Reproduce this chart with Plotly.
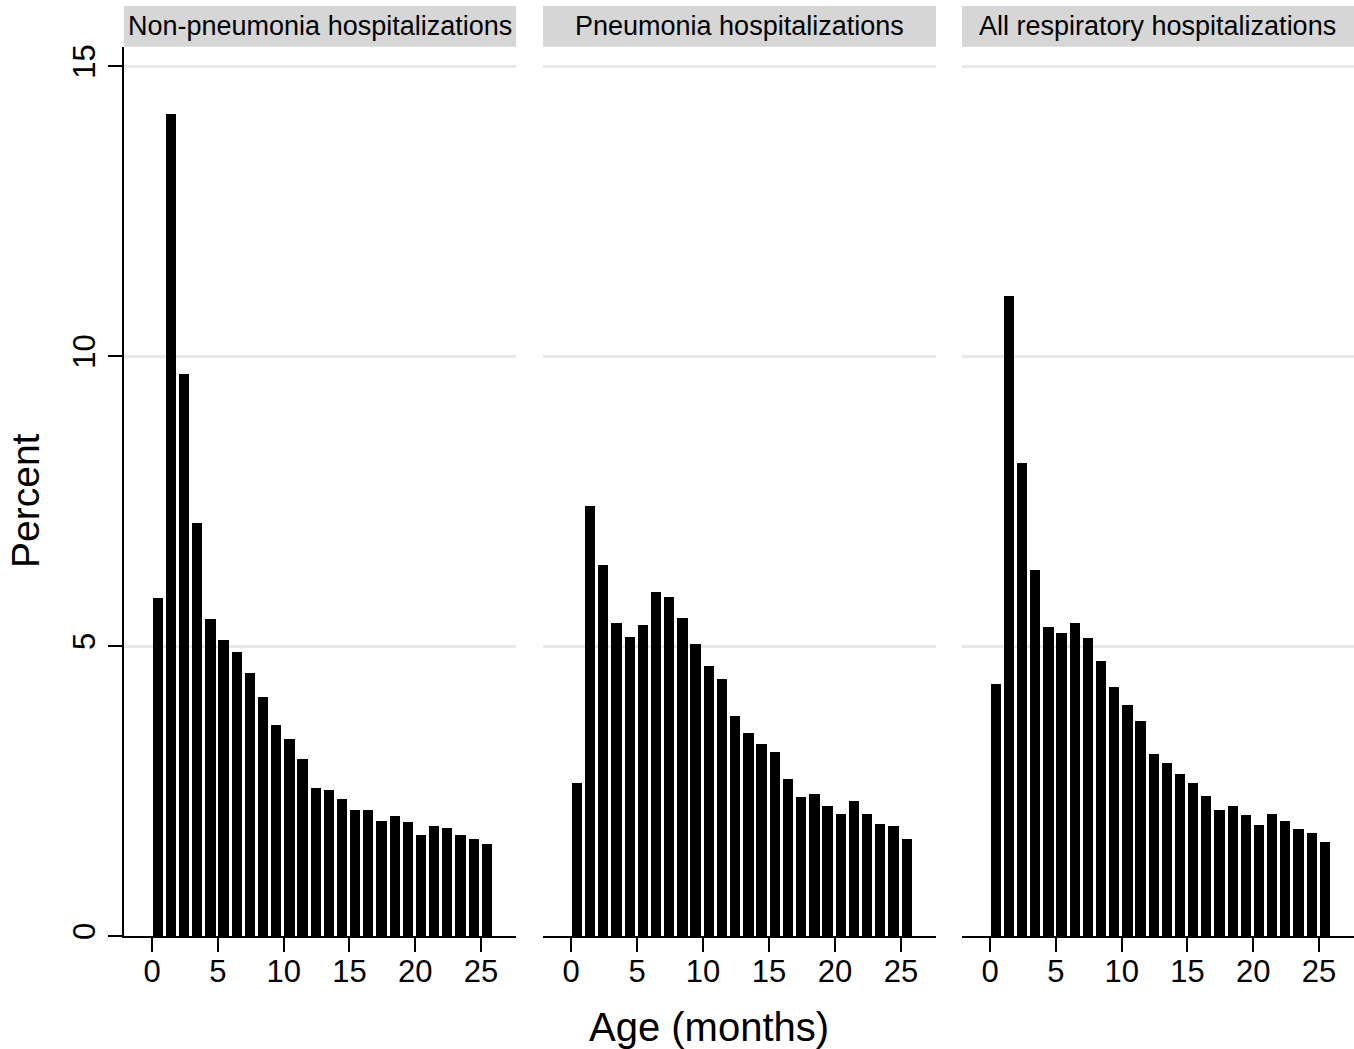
import plotly.graph_objects as go

# ---- data ----
ages = list(range(26))
panel_titles = ["Non-pneumonia hospitalizations", "Pneumonia hospitalizations", "All respiratory hospitalizations"]

non_pneumonia = [5.83, 14.17, 9.69, 7.13, 5.47, 5.10, 4.90, 4.53, 4.12, 3.64,
                 3.39, 3.06, 2.56, 2.51, 2.36, 2.18, 2.17, 1.98, 2.07, 1.97,
                 1.75, 1.90, 1.86, 1.74, 1.67, 1.58]
pneumonia = [2.63, 7.41, 6.39, 5.40, 5.15, 5.36, 5.94, 5.84, 5.49, 5.04,
             4.66, 4.43, 3.79, 3.50, 3.31, 3.17, 2.70, 2.39, 2.45, 2.24,
             2.10, 2.33, 2.10, 1.94, 1.89, 1.68]
all_respiratory = [4.34, 11.03, 8.16, 6.32, 5.32, 5.22, 5.39, 5.14, 4.75, 4.29,
                   3.98, 3.70, 3.13, 2.98, 2.80, 2.64, 2.41, 2.17, 2.24, 2.09,
                   1.91, 2.10, 1.98, 1.84, 1.77, 1.62]

x_ticks = [0, 5, 10, 15, 20, 25]
y_ticks = [0, 5, 10, 15]
y_title = "Percent"
x_title = "Age (months)"

series = [non_pneumonia, pneumonia, all_respiratory]

# ---- layout geometry ----
W, H = 1354, 1049
ML, MR, MT, MB = 124, 0, 47, 113
plot_w = W - ML - MR
plot_h = H - MT - MB
domains = [[0.0, 0.3187], [0.3407, 0.6602], [0.6813, 1.0]]
xr = [-2.13, 27.66]
yr = [0, 15.33]
FONT = "Liberation Sans, Arial, Helvetica, sans-serif"

fig = go.Figure()
for i, vals in enumerate(series):
    suffix = "" if i == 0 else str(i + 1)
    fig.add_trace(go.Bar(
        x=ages, y=vals, width=0.78, offset=0.05,
        marker=dict(color="black", line=dict(width=0)),
        xaxis="x" + suffix, yaxis="y" + suffix, showlegend=False,
        hoverinfo="x+y",
    ))

layout = dict(
    width=W, height=H,
    margin=dict(l=ML, r=MR, t=MT, b=MB, pad=0),
    paper_bgcolor="white", plot_bgcolor="white",
    font=dict(family=FONT, color="black"),
    bargap=0,
    shapes=[], annotations=[],
)

for i in range(3):
    suffix = "" if i == 0 else str(i + 1)
    layout["xaxis" + suffix] = dict(
        domain=domains[i], range=xr, anchor="y" + suffix,
        showline=True, linecolor="black", linewidth=2,
        ticks="outside", ticklen=14, tickwidth=2, tickcolor="black",
        tickvals=x_ticks, showgrid=False, zeroline=False,
        ticklabelstandoff=-7,
        tickfont=dict(size=31, family=FONT, color="black"),
        fixedrange=True,
    )
    ydict = dict(
        domain=[0, 1], range=yr, anchor="x" + suffix,
        showgrid=True, gridcolor="#e8e8e8", gridwidth=3,
        tickvals=y_ticks, zeroline=False, fixedrange=True,
    )
    if i == 0:
        ydict.update(showline=True, linecolor="black", linewidth=2,
                     ticks="outside", ticklen=14, tickwidth=2, tickcolor="black",
                     tickangle=-90, ticklabelstandoff=1,
                     tickfont=dict(size=31, family=FONT, color="black"))
    else:
        ydict.update(showline=False, showticklabels=False, ticks="")
    layout["yaxis" + suffix] = ydict

    # strip header
    layout["shapes"].append(dict(
        type="rect", xref=("x" + suffix + " domain"), yref="paper",
        x0=0, x1=1, y0=(plot_h + 0.3) / plot_h, y1=(936 - 6) / plot_h,
        fillcolor="#d6d6d6", line=dict(width=0), layer="below",
    ))
    layout["annotations"].append(dict(
        text=panel_titles[i], xref=("x" + suffix + " domain"), yref="paper",
        x=0.5, y=(936 - 26) / plot_h, xanchor="center", yanchor="middle",
        showarrow=False, font=dict(size=27, family=FONT, color="black"),
    ))

layout["annotations"].append(dict(
    text=y_title, xref="paper", yref="paper",
    x=(25 - ML) / plot_w, y=(936 - 501) / plot_h, textangle=-90,
    xanchor="center", yanchor="middle", showarrow=False,
    font=dict(size=39, family=FONT, color="black"),
))
layout["annotations"].append(dict(
    text=x_title, xref="paper", yref="paper",
    x=(709 - ML) / plot_w, y=(936 - 1027) / plot_h,
    xanchor="center", yanchor="middle", showarrow=False,
    font=dict(size=40, family=FONT, color="black"),
))

fig.update_layout(**layout)
fig.write_html("out.html", config={"displayModeBar": False},
               post_script="document.body.style.margin='0px';document.body.style.padding='0px';")
